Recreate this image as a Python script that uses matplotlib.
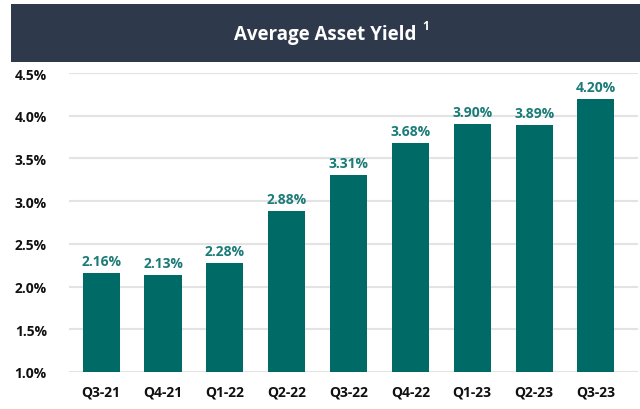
import matplotlib.pyplot as plt
from matplotlib.patches import Rectangle
from matplotlib.ticker import FuncFormatter

quarters = ['Q3-21', 'Q4-21', 'Q1-22', 'Q2-22', 'Q3-22', 'Q4-22', 'Q1-23', 'Q2-23', 'Q3-23']
yields = [2.16, 2.13, 2.28, 2.88, 3.31, 3.68, 3.90, 3.89, 4.20]
yticks = [1.0, 1.5, 2.0, 2.5, 3.0, 3.5, 4.0, 4.5]

bar_color = '#006B66'
label_color = '#1B7B78'
header_color = '#2E3A4B'

plt.rcParams['font.family'] = ['Open Sans', 'DejaVu Sans']

fig = plt.figure(figsize=(6.4, 4.1), dpi=100)
fig.patch.set_facecolor('white')

# dark title band
fig.patches.append(Rectangle((11/640, 1 - 63/410), 1, 58/410, transform=fig.transFigure,
                             facecolor=header_color, edgecolor='none', zorder=0))
fig.text(0.508, 1 - 35/410, 'Average Asset Yield', color='white', fontsize=13.5,
         fontweight='bold', ha='center', va='center')
fig.text(426/640, 1 - 27/410, '1', color='white', fontsize=8.5,
         fontweight='bold', ha='center', va='center')

ax = fig.add_axes([69/640, 1 - 373/410, 569/640, (373 - 74)/410])
x = range(len(quarters))
ax.bar(x, yields, width=0.6, color=bar_color, zorder=3)
for xi, v in zip(x, yields):
    ax.text(xi, v + 0.06, f'{v:.2f}%', ha='center', va='bottom', color=label_color,
            fontsize=10, fontweight='bold')

ax.set_ylim(1.0, 4.5)
ax.set_xlim(-0.52, 8.68)
ax.set_yticks(yticks)
ax.yaxis.set_major_formatter(FuncFormatter(lambda v, p: f'{v:.1f}%'))
ax.set_xticks(list(x))
ax.set_xticklabels(quarters)
ax.grid(axis='y', color='#E3E3E3', linewidth=1.5, zorder=0)
ax.set_axisbelow(True)
for s in ax.spines.values():
    s.set_visible(False)
ax.tick_params(length=0, labelsize=10, labelcolor='#111111')
ax.tick_params(axis='y', pad=16)
ax.tick_params(axis='x', pad=9)
for lab in ax.get_xticklabels() + ax.get_yticklabels():
    lab.set_fontweight('bold')

fig.savefig('out.png', dpi=100)
